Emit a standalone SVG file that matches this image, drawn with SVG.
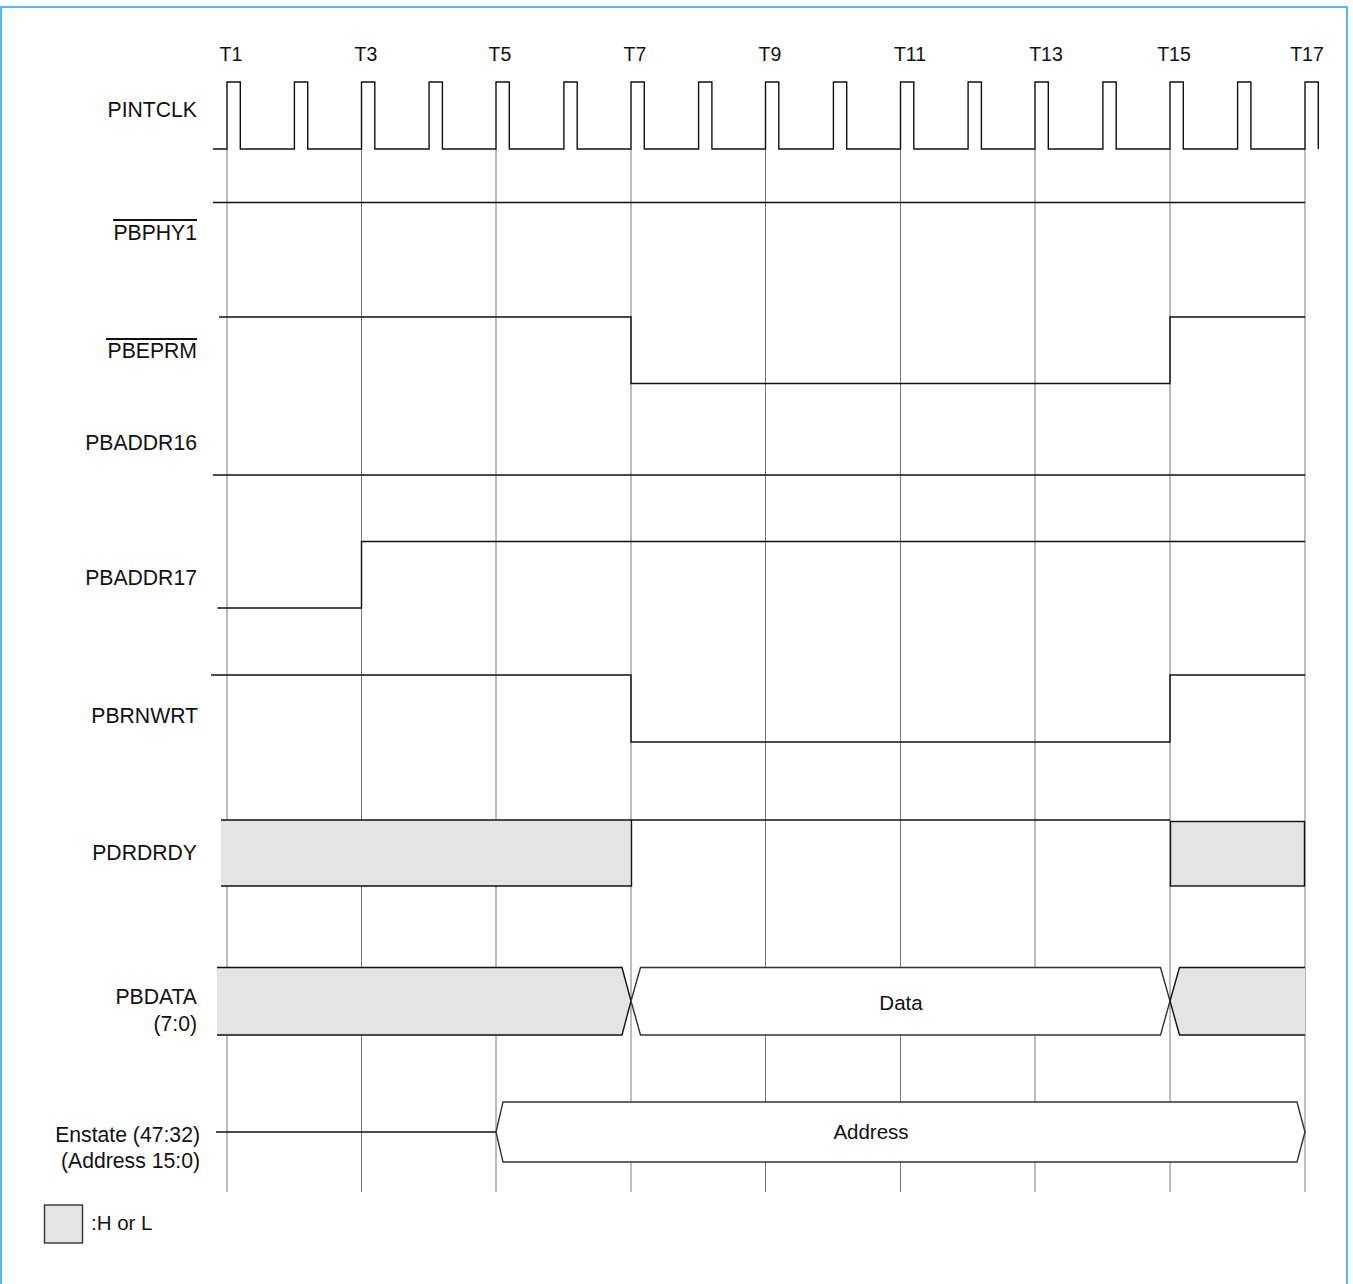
<svg xmlns="http://www.w3.org/2000/svg" width="1353" height="1284" viewBox="0 0 1353 1284">
<style>
text{font-family:"Liberation Sans",Arial,sans-serif;font-size:20.5px;fill:#111}
.lbl{text-anchor:end;font-size:21.2px}
.tl{text-anchor:middle;font-size:19.5px}
.c{text-anchor:middle}
.grid{stroke:#7a7a7a;stroke-width:1;fill:none}
.sig{stroke:#111;stroke-width:1.4;fill:none}
.hl{fill:#e4e4e4;stroke:none}
.box{fill:#fff;stroke:#333;stroke-width:1.4}
.ol{stroke:#111;stroke-width:2}
</style>
<rect x="1" y="7" width="1346" height="1300" fill="#fff" stroke="#5cb3f3" stroke-width="2"/>
<g id="time-labels">
<text class="tl" x="231" y="61">T1</text>
<text class="tl" x="366" y="61">T3</text>
<text class="tl" x="500" y="61">T5</text>
<text class="tl" x="635" y="61">T7</text>
<text class="tl" x="770" y="61">T9</text>
<text class="tl" x="910" y="61">T11</text>
<text class="tl" x="1046" y="61">T13</text>
<text class="tl" x="1174" y="61">T15</text>
<text class="tl" x="1307" y="61">T17</text>
</g>
<g id="grid">
<path class="grid" d="M227,149V1192M361.5,149V1192M496,149V1192M631,149V1192M765.5,149V1192M900.5,149V1192M1035,149V1192M1170,149V1192M1305,149V1192"/>
</g>
<g id="PINTCLK">
<text class="lbl" x="197" y="117">PINTCLK</text>
<path class="sig" d="M213,149H227V82H240.3V149H294.4V82H307.7V149H361.5V82H374.8V149H429.1V82H442.4V149H496V82H509.3V149H563.9V82H577.2V149H631V82H644.3V149H698.6V82H711.9V149H765.5V82H778.8V149H833.4V82H846.7V149H900.5V82H913.8V149H968.1V82H981.4V149H1035V82H1048.3V149H1102.9V82H1116.2V149H1170V82H1183.3V149H1237.6V82H1250.9V149H1305V82H1318.3V149"/>
</g>
<g id="PBPHY1">
<text class="lbl" x="197" y="240">PBPHY1</text>
<line class="ol" x1="113" y1="220" x2="197" y2="220"/>
<path class="sig" d="M213,202.5H1305"/>
</g>
<g id="PBEPRM">
<text class="lbl" x="197" y="358">PBEPRM</text>
<line class="ol" x1="106" y1="339" x2="197" y2="339"/>
<path class="sig" d="M219,317H631V383.5H1170V317H1305"/>
</g>
<g id="PBADDR16">
<text class="lbl" x="197" y="450">PBADDR16</text>
<path class="sig" d="M213,475H1305"/>
</g>
<g id="PBADDR17">
<text class="lbl" x="197" y="585">PBADDR17</text>
<path class="sig" d="M217.5,608H361.5V541.5H1305"/>
</g>
<g id="PBRNWRT">
<text class="lbl" x="198" y="723">PBRNWRT</text>
<path class="sig" d="M211,675H631V742H1170V675H1305"/>
</g>
<g id="PDRDRDY">
<text class="lbl" x="197" y="860">PDRDRDY</text>
<rect class="hl" x="221" y="820" width="410.5" height="66"/>
<path class="sig" d="M221,820H631.5V886H221"/>
<path class="sig" d="M631.5,820H1170"/>
<rect x="1170.5" y="821.5" width="134" height="64.5" fill="#e4e4e4" stroke="#111" stroke-width="1.4"/>
</g>
<g id="PBDATA">
<text class="lbl" x="197" y="1004">PBDATA</text>
<text class="lbl" x="197" y="1031">(7:0)</text>
<path class="hl" d="M217,967.5H622L631,1001L622,1035H217Z"/>
<path class="sig" d="M217,967.5H622L631,1001L622,1035H217"/>
<path class="box" d="M631,1001L640.5,967.5H1160.5L1170,1001L1160.5,1035H640.5Z"/>
<text class="c" x="901" y="1010">Data</text>
<path class="hl" d="M1170,1001L1179.5,967.5H1305V1035H1179.5Z"/>
<path class="sig" d="M1305,967.5H1179.5L1170,1001L1179.5,1035H1305"/>
</g>
<g id="Enstate">
<text class="lbl" x="200" y="1142">Enstate (47:32)</text>
<text class="lbl" x="200" y="1168">(Address 15:0)</text>
<path class="sig" d="M216,1132H496"/>
<path class="box" d="M496,1132L503,1102H1297L1305,1132L1297,1162H503Z"/>
<text class="c" x="871" y="1139">Address</text>
</g>
<g id="legend">
<rect x="44.5" y="1205" width="38" height="38" fill="#e4e4e4" stroke="#333" stroke-width="1.4"/>
<text x="91" y="1230" font-size="21">:H or L</text>
</g>
</svg>
